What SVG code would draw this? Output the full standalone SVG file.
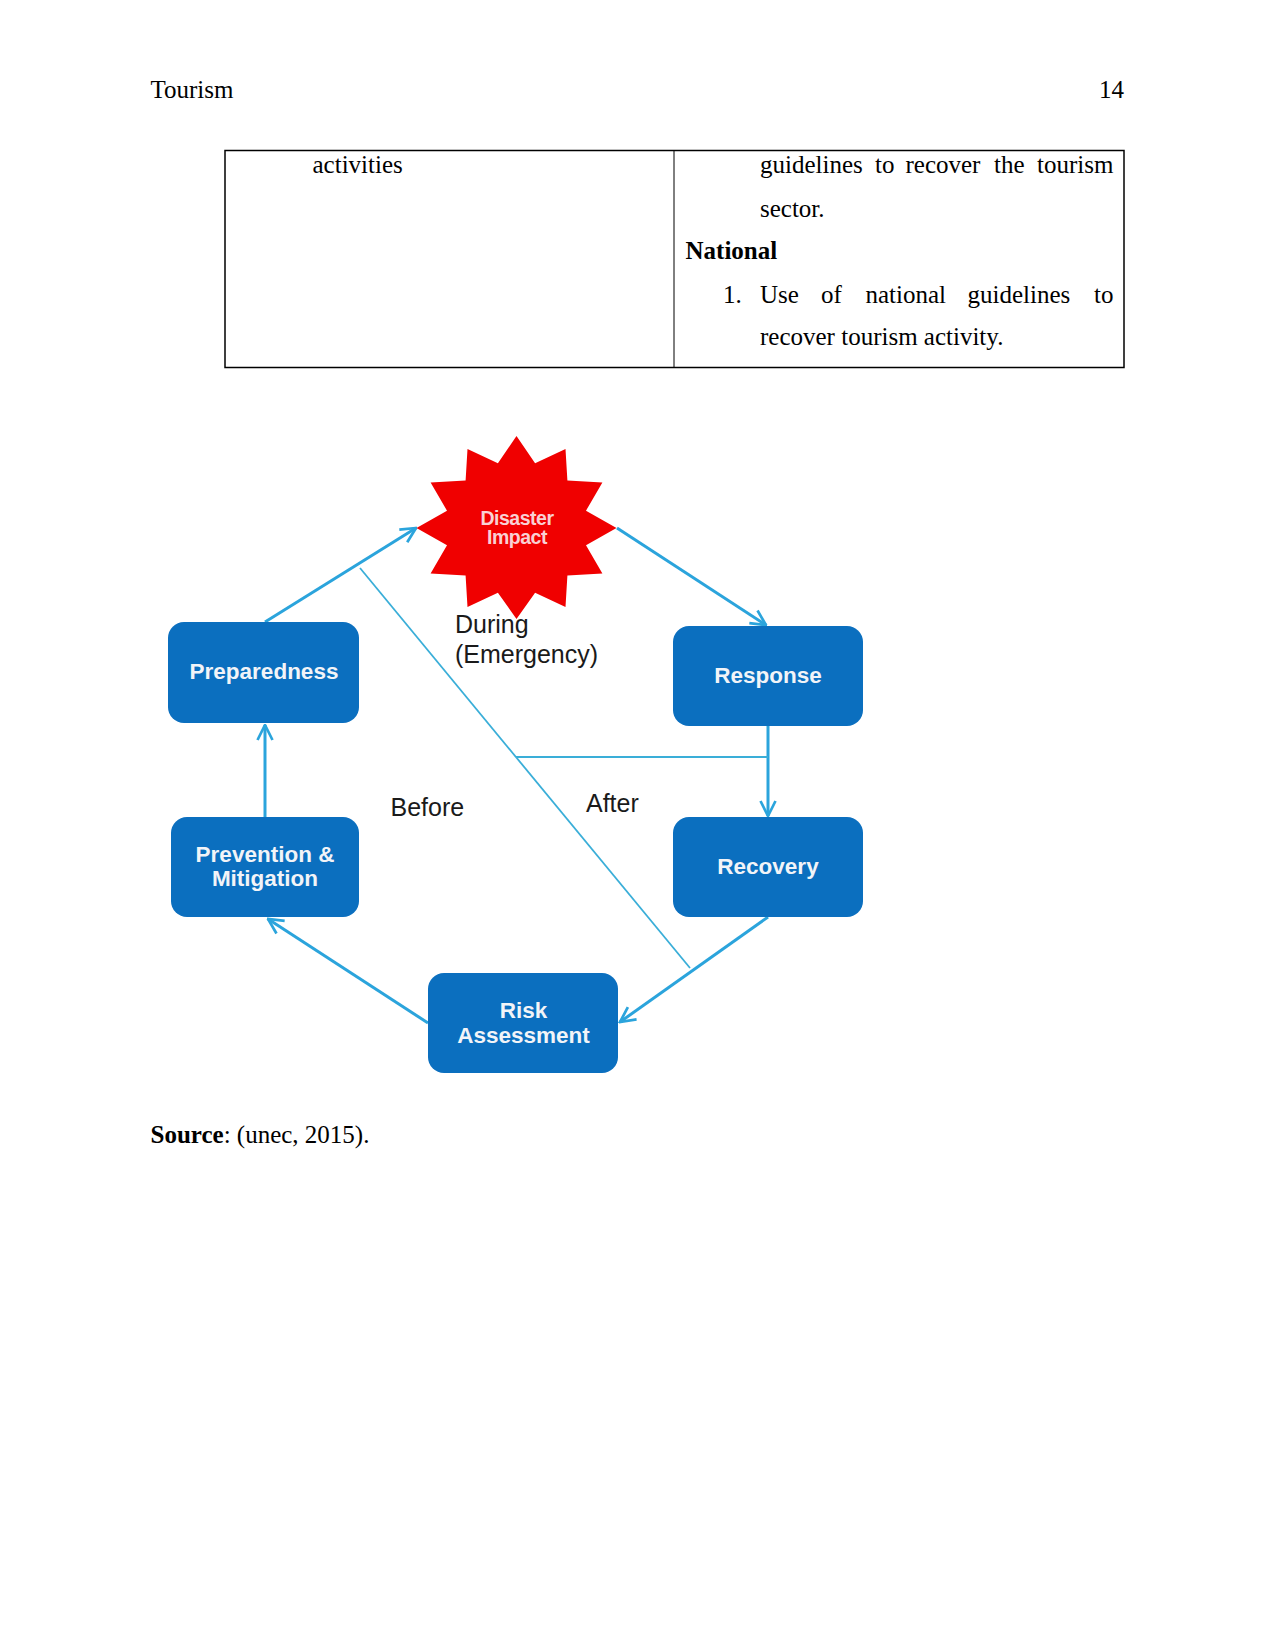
<svg xmlns="http://www.w3.org/2000/svg" width="1275" height="1651" viewBox="0 0 1275 1651">
<style>
.serif{font-family:"Liberation Serif","Times New Roman",serif;font-size:25px;fill:#000}
.b{font-weight:bold}
.box{fill:#0b6fbf}
.bt{font-family:"Liberation Sans",Arial,sans-serif;font-weight:bold;font-size:22.5px;fill:#f2f4f8;text-anchor:middle}
.lbl{font-family:"Liberation Sans",Arial,sans-serif;font-size:25px;fill:#1a1a1a}
.arr{stroke:#2ba4dc;stroke-width:3;fill:none;marker-end:url(#ah)}
.thin{stroke:#3aaed8;stroke-width:1.8;fill:none}
</style>
<defs>
<marker id="ah" viewBox="0 0 12 12" refX="11" refY="6" markerWidth="18" markerHeight="18" markerUnits="userSpaceOnUse" orient="auto">
<path d="M1,1 L11,6 L1,11" fill="none" stroke="#2ba4dc" stroke-width="1.8"/>
</marker>
</defs>
<rect width="1275" height="1651" fill="#fff"/>
<g id="header">
<text class="serif" x="150.5" y="98">Tourism</text>
<text class="serif" x="1124" y="98" text-anchor="end">14</text>
</g>
<g id="table">
<rect x="225" y="150.5" width="899" height="217" fill="none" stroke="#000" stroke-width="1.5"/>
<line x1="674" y1="150.5" x2="674" y2="367.5" stroke="#000" stroke-width="1"/>
<text class="serif" x="312.5" y="173">activities</text>
<text class="serif" y="173"><tspan x="760">guidelines</tspan><tspan x="875">to</tspan><tspan x="905.5">recover</tspan><tspan x="994">the</tspan><tspan x="1037">tourism</tspan></text>
<text class="serif" x="760" y="217">sector.</text>
<text class="serif b" x="685.5" y="259">National</text>
<text class="serif" x="723" y="303">1.</text>
<text class="serif" y="303"><tspan x="760">Use</tspan><tspan x="821">of</tspan><tspan x="865.5">national</tspan><tspan x="967.5">guidelines</tspan><tspan x="1094">to</tspan></text>
<text class="serif" x="760" y="345">recover tourism activity.</text>
</g>
<g id="connectors">
<line class="arr" x1="265" y1="622" x2="416" y2="528"/>
<line class="arr" x1="617" y1="528" x2="766" y2="625"/>
<line class="arr" x1="768" y1="726" x2="768" y2="816"/>
<line class="arr" x1="768" y1="917" x2="620" y2="1022"/>
<line class="arr" x1="428" y1="1023" x2="268" y2="919"/>
<line class="arr" x1="265" y1="817" x2="265" y2="725"/>
<line class="thin" x1="360" y1="568" x2="690" y2="968"/>
<line class="thin" x1="516" y1="757" x2="768" y2="757"/>
</g>
<g id="disaster-impact">
<polygon fill="#f00000" points="516.5,436 535.1,463.3 565.5,449.1 567.4,480.6 602.4,482.5 586,510.7 616.5,528 586,545.3 602.4,573.5 567.4,575.4 565.5,606.9 535.1,592.7 516.5,619 497.9,592.7 467.5,606.9 465.6,575.4 430.6,573.5 447,545.3 416.5,528 447,510.7 430.6,482.5 465.6,480.6 467.5,449.1 497.9,463.3"/>
<text font-family="Liberation Sans,Arial,sans-serif" font-weight="bold" font-size="19.5" fill="#f9d0d4" text-anchor="middle" x="517" y="525" letter-spacing="-0.5">Disaster</text>
<text font-family="Liberation Sans,Arial,sans-serif" font-weight="bold" font-size="19.5" fill="#f9d0d4" text-anchor="middle" x="517" y="544" letter-spacing="-0.5">Impact</text>
</g>
<g id="preparedness">
<rect class="box" x="168" y="622" width="191" height="101" rx="16"/>
<text class="bt" x="264" y="679">Preparedness</text>
</g>
<g id="response">
<rect class="box" x="673" y="626" width="190" height="100" rx="16"/>
<text class="bt" x="768" y="683">Response</text>
</g>
<g id="prevention-mitigation">
<rect class="box" x="171" y="817" width="188" height="100" rx="16"/>
<text class="bt" x="265" y="862">Prevention &amp;</text>
<text class="bt" x="265" y="886">Mitigation</text>
</g>
<g id="recovery">
<rect class="box" x="673" y="817" width="190" height="100" rx="16"/>
<text class="bt" x="768" y="874">Recovery</text>
</g>
<g id="risk-assessment">
<rect class="box" x="428" y="973" width="190" height="100" rx="16"/>
<text class="bt" x="523.5" y="1018">Risk</text>
<text class="bt" x="523.5" y="1043">Assessment</text>
</g>
<g id="labels">
<text class="lbl" x="455" y="633">During</text>
<text class="lbl" x="455" y="663">(Emergency)</text>
<text class="lbl" x="390.5" y="816">Before</text>
<text class="lbl" x="586" y="812">After</text>
</g>
<g id="source">
<text class="serif" x="150.5" y="1143"><tspan font-weight="bold">Source</tspan>: (unec, 2015).</text>
</g>
</svg>
